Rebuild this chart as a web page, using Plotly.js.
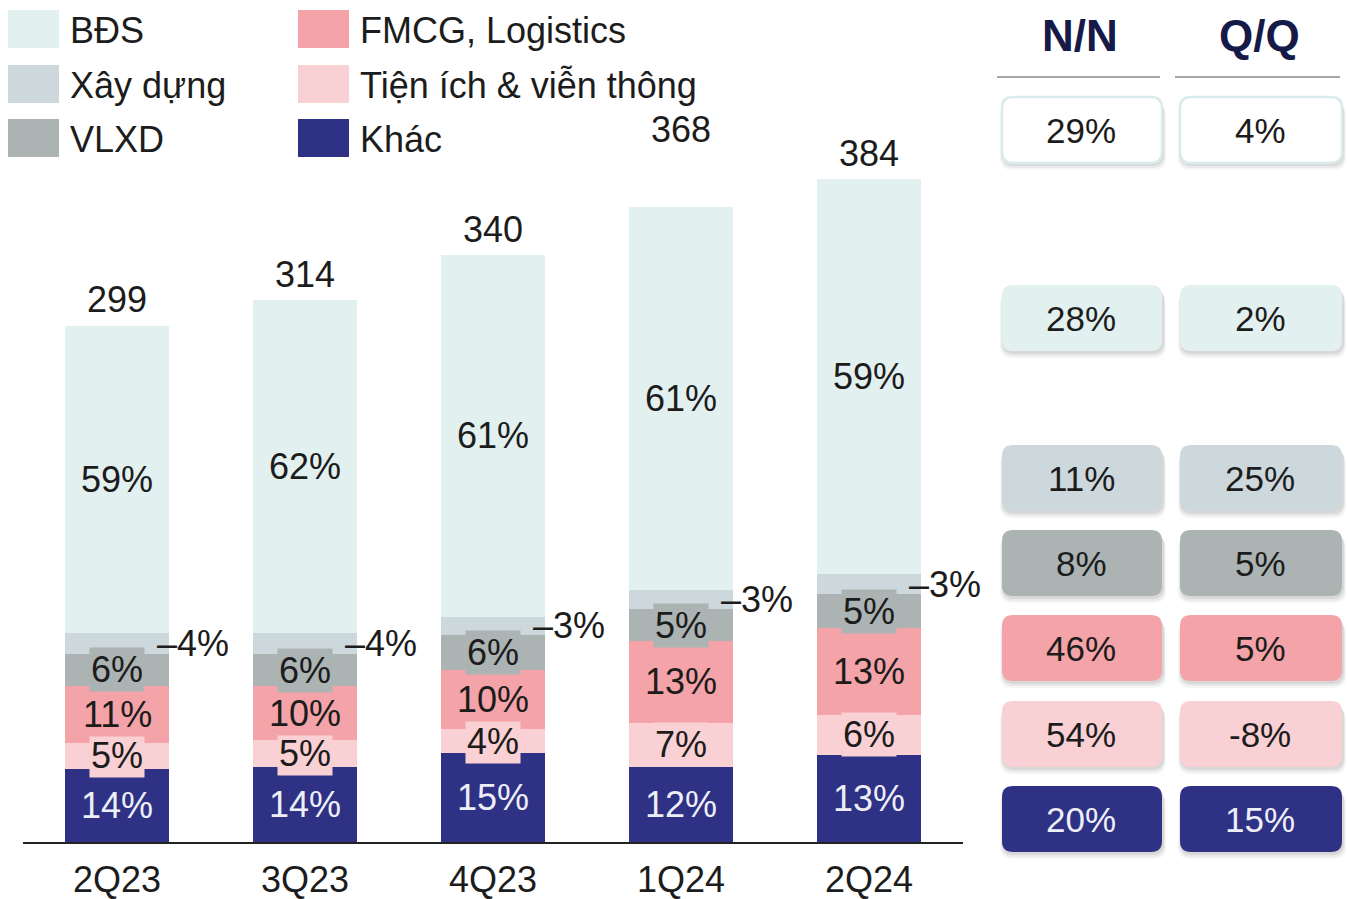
<!DOCTYPE html>
<html>
<head>
<meta charset="utf-8">
<script src="https://cdn.plot.ly/plotly-3.0.1.min.js"></script>
<style>
html,body{margin:0;padding:0;background:#fff;}
#chart{width:1348px;height:899px;}
</style>
</head>
<body>
<div id="chart"></div>
<script>
// ---------- DATA ----------
const categories = ['2Q23', '3Q23', '4Q23', '1Q24', '2Q24'];
const totals = [299, 314, 340, 368, 384];
const seriesNames = ['Khác', 'Tiện ích & viễn thông', 'FMCG, Logistics', 'VLXD', 'Xây dựng', 'BĐS'];
const pctKhac = [14, 14, 15, 12, 13];
const pctTienIch = [5, 5, 4, 7, 6];
const pctFmcg = [11, 10, 10, 13, 13];
const pctVlxd = [6, 6, 6, 5, 5];
const pctXayDung = [4, 4, 3, 3, 3];
const pctBds = [59, 62, 61, 61, 59];
const tableHeaders = ['N/N', 'Q/Q'];
const tableRows = ['Tổng', 'BĐS', 'Xây dựng', 'VLXD', 'FMCG, Logistics', 'Tiện ích & viễn thông', 'Khác'];
const growthNN = [29, 28, 11, 8, 46, 54, 20];
const growthQQ = [4, 2, 25, 5, 5, -8, 15];

// ---------- STYLE ----------
const W = 1348, H = 899;
const FONT = 'Liberation Sans, Arial, Helvetica, sans-serif';
const FS = 36;
const colors = {
  'Khác': '#2e3184',
  'Tiện ích & viễn thông': '#f9d0d3',
  'FMCG, Logistics': '#f4a3a8',
  'VLXD': '#abb3b3',
  'Xây dựng': '#cdd8dc',
  'BĐS': '#e3f0f0'
};
const textColors = {
  'Khác': '#eceef8',
  'Tiện ích & viễn thông': '#1c1c1c',
  'FMCG, Logistics': '#1c1c1c',
  'VLXD': '#1c1c1c',
  'Xây dựng': '#1c1c1c',
  'BĐS': '#1c1c1c'
};
const pctSeries = [pctKhac, pctTienIch, pctFmcg, pctVlxd, pctXayDung, pctBds];
const totalLabelShift = [26, 26, 26, 77, 26];

const X = px => px / W;
const Y = py => 1 - py / H;

// segment values scaled so each stack reaches its total
const sums = categories.map((c, i) => pctSeries.reduce((s, arr) => s + arr[i], 0));
const segVals = pctSeries.map(arr => arr.map((p, i) => totals[i] * p / sums[i]));

const traces = seriesNames.map((name, k) => ({
  type: 'bar',
  name: name,
  x: categories,
  y: segVals[k],
  marker: {color: colors[name], line: {width: 0}},
  hoverinfo: 'name+y',
  showlegend: false
}));

const annotations = [];
const shapes = [];

// segment labels
categories.forEach((c, i) => {
  let base = 0;
  seriesNames.forEach((name, k) => {
    const v = segVals[k][i];
    const mid = base + v / 2;
    if (name === 'Xây dựng') {
      annotations.push({
        xref: 'x', yref: 'y', x: i + 0.2, y: mid, xanchor: 'left', yanchor: 'middle',
        text: '\u2013' + pctSeries[k][i] + '%', showarrow: false,
        font: {family: FONT, size: FS, color: '#1c1c1c'}
      });
    } else {
      annotations.push({
        xref: 'x', yref: 'y', x: i, y: mid, xanchor: 'center', yanchor: 'middle',
        text: pctSeries[k][i] + '%', showarrow: false,
        bgcolor: colors[name], borderpad: 1,
        font: {family: FONT, size: FS, color: textColors[name]}
      });
    }
    base += v;
  });
  annotations.push({
    xref: 'x', yref: 'y', x: i, y: totals[i], yshift: totalLabelShift[i],
    xanchor: 'center', yanchor: 'middle', text: String(totals[i]), showarrow: false,
    font: {family: FONT, size: FS, color: '#1c1c1c'}
  });
});

// legend (two columns)
const legendCols = [['BĐS', 'Xây dựng', 'VLXD'], ['FMCG, Logistics', 'Tiện ích & viễn thông', 'Khác']];
const legendX = [8, 298];
const legendY = [29, 84, 138];
legendCols.forEach((col, ci) => {
  col.forEach((name, ri) => {
    const cy = legendY[ri];
    shapes.push({type: 'rect', xref: 'paper', yref: 'paper',
      x0: X(legendX[ci]), x1: X(legendX[ci] + 51), y0: Y(cy - 19), y1: Y(cy + 19),
      fillcolor: colors[name], line: {width: 0}});
    annotations.push({xref: 'paper', yref: 'paper', x: X(legendX[ci] + 60), y: Y(cy + 1),
      xanchor: 'left', yanchor: 'middle', text: name, showarrow: false,
      font: {family: FONT, size: FS, color: '#1c1c1c'}});
  });
});

// growth table
function rrPath(x0, y0, x1, y1, r) {
  return 'M' + X(x0 + r) + ',' + Y(y0) +
    ' L' + X(x1 - r) + ',' + Y(y0) +
    ' Q' + X(x1) + ',' + Y(y0) + ' ' + X(x1) + ',' + Y(y0 + r) +
    ' L' + X(x1) + ',' + Y(y1 - r) +
    ' Q' + X(x1) + ',' + Y(y1) + ' ' + X(x1 - r) + ',' + Y(y1) +
    ' L' + X(x0 + r) + ',' + Y(y1) +
    ' Q' + X(x0) + ',' + Y(y1) + ' ' + X(x0) + ',' + Y(y1 - r) +
    ' L' + X(x0) + ',' + Y(y0 + r) +
    ' Q' + X(x0) + ',' + Y(y0) + ' ' + X(x0 + r) + ',' + Y(y0) + ' Z';
}
const colX = [[1002, 1162], [1180, 1342]];
const rowCY = [130, 318, 478, 563, 648, 734, 819];
const boxH = 66;
const rowFill = ['#ffffff', colors['BĐS'], colors['Xây dựng'], colors['VLXD'], colors['FMCG, Logistics'], colors['Tiện ích & viễn thông'], colors['Khác']];
const rowText = ['#1c1c1c', '#1c1c1c', '#1c1c1c', '#1c1c1c', '#1c1c1c', '#1c1c1c', '#eceef8'];

tableHeaders.forEach((h, ci) => {
  const cx = (colX[ci][0] + colX[ci][1]) / 2;
  annotations.push({xref: 'paper', yref: 'paper', x: X(cx - 2), y: Y(36),
    xanchor: 'center', yanchor: 'middle', text: '<b>' + h + '</b>', showarrow: false,
    font: {family: FONT, size: 44, color: '#161a48'}});
  shapes.push({type: 'line', xref: 'paper', yref: 'paper',
    x0: X(colX[ci][0] - 5), x1: X(colX[ci][1] - 2), y0: Y(77), y1: Y(77),
    line: {color: '#8a8a8a', width: 1.5}});
});

tableRows.forEach((row, ri) => {
  const cy = rowCY[ri];
  [growthNN, growthQQ].forEach((arr, ci) => {
    const x0 = colX[ci][0], x1 = colX[ci][1];
    const y0 = cy - boxH / 2, y1 = cy + boxH / 2;
    // soft shadow
    [[7, 3, 0.035], [5, 2, 0.05], [3, 1, 0.07]].forEach(s => {
      shapes.push({type: 'path', xref: 'paper', yref: 'paper',
        path: rrPath(x0 - s[1] + 1, y0 + s[0], x1 + s[1] + 1, y1 + s[0], 12),
        fillcolor: 'rgba(0,0,0,' + s[2] + ')', line: {width: 0}});
    });
    shapes.push({type: 'path', xref: 'paper', yref: 'paper',
      path: rrPath(x0, y0, x1, y1, 11),
      fillcolor: rowFill[ri],
      line: ri === 0 ? {color: '#d9ebeb', width: 2.5} : {width: 0}});
    annotations.push({xref: 'paper', yref: 'paper', x: X((x0 + x1) / 2 - 1), y: Y(cy),
      xanchor: 'center', yanchor: 'middle', text: arr[ri] + '%', showarrow: false,
      font: {family: FONT, size: 35, color: rowText[ri]}});
  });
});

const layout = {
  width: W, height: H,
  margin: {l: 0, r: 0, t: 0, b: 0},
  paper_bgcolor: '#ffffff', plot_bgcolor: '#ffffff',
  barmode: 'stack',
  bargap: 0.447,
  showlegend: false,
  xaxis: {
    domain: [23 / W, 963 / W],
    range: [-0.5, 4.5],
    showline: true, linecolor: '#222', linewidth: 1.5,
    ticks: '', showgrid: false, zeroline: false,
    tickfont: {family: FONT, size: FS, color: '#1c1c1c'},
    ticklabelstandoff: 5,
    fixedrange: true
  },
  yaxis: {
    domain: [57 / H, 1],
    range: [0, 842 / 1.726],
    visible: false, showgrid: false, zeroline: false, fixedrange: true
  },
  annotations: annotations,
  shapes: shapes,
  font: {family: FONT}
};

Plotly.newPlot('chart', traces, layout, {displayModeBar: false, staticPlot: true});
</script>
</body>
</html>
